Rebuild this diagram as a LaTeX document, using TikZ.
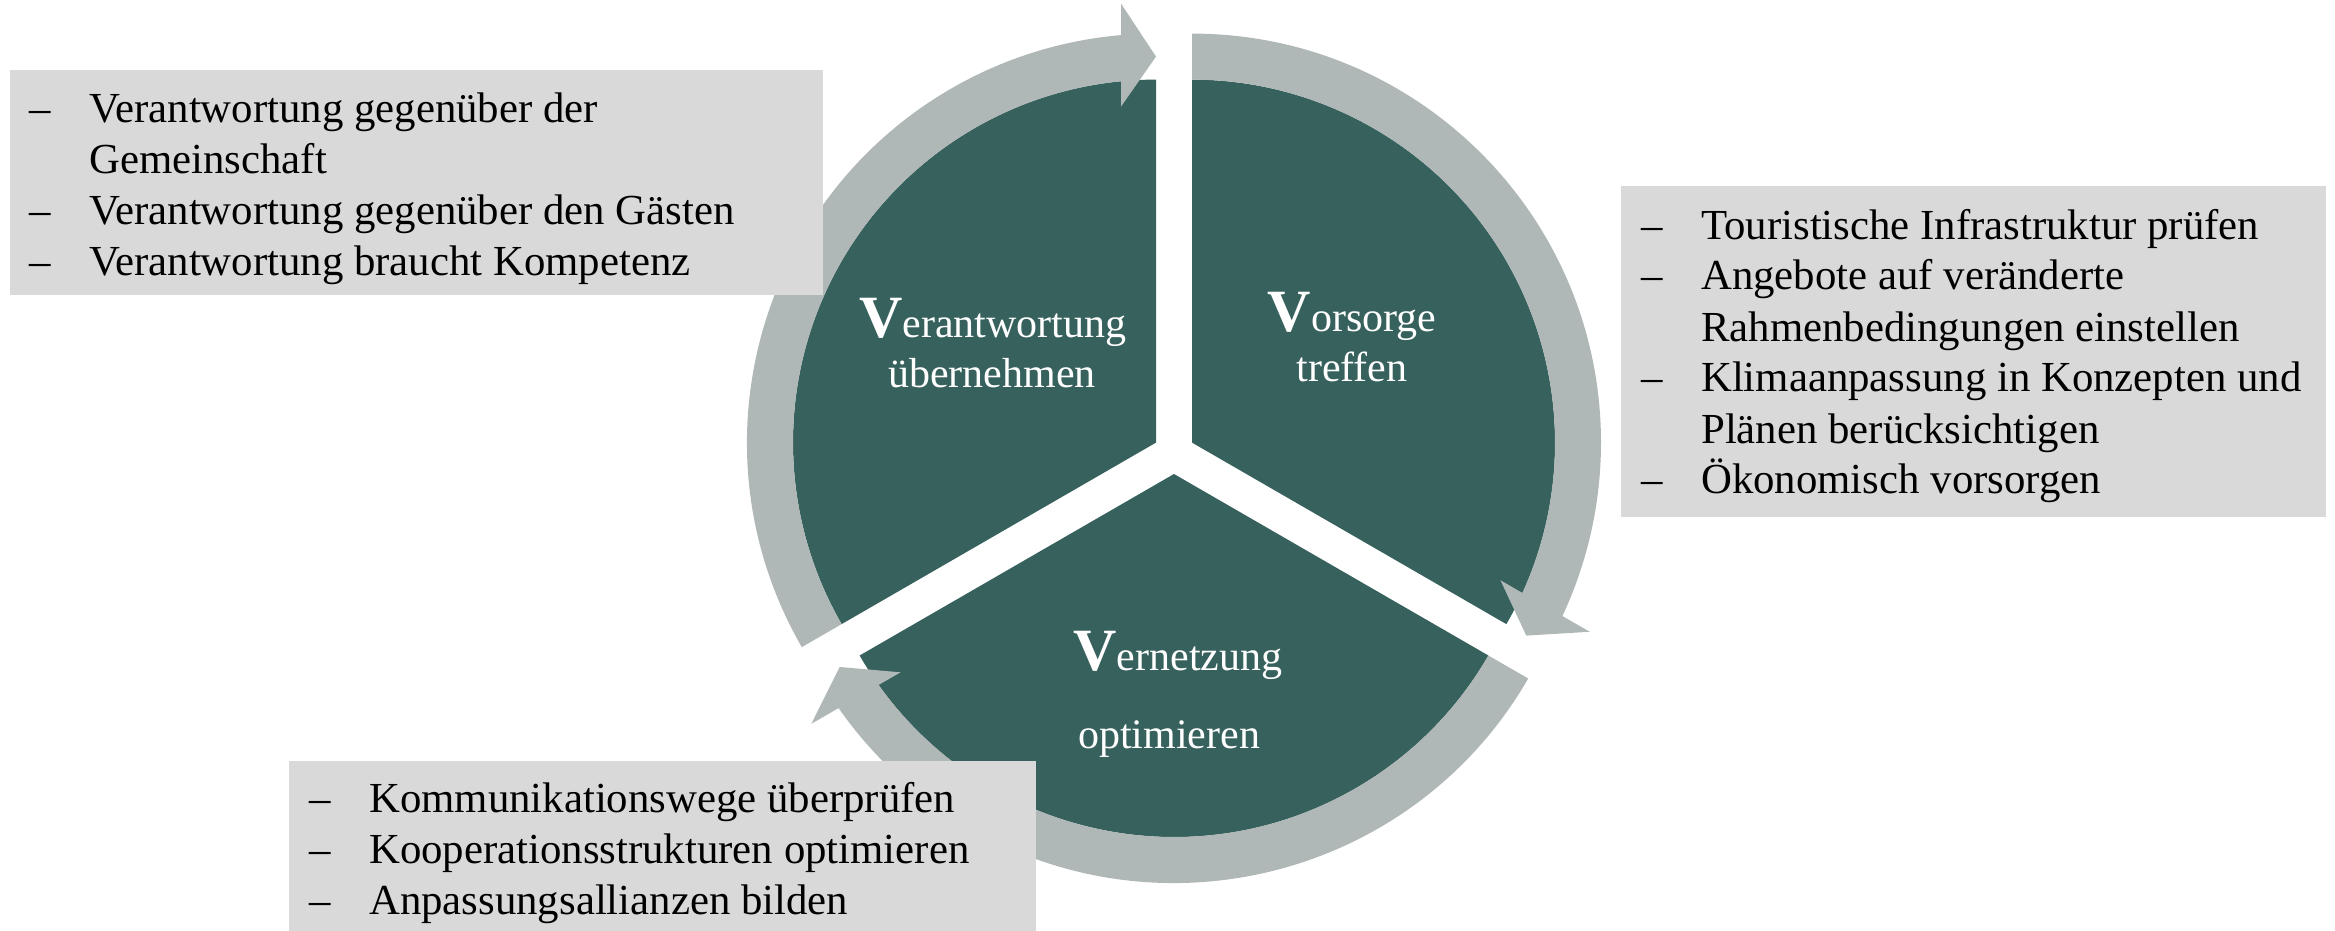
\documentclass[tikz,border=0pt]{standalone}
\usepackage{fontspec}
\setmainfont{Liberation Serif}
\usetikzlibrary{calc}
\definecolor{segdark}{HTML}{37615D}
\definecolor{ringgray}{HTML}{AFB8B6}
\definecolor{boxgray}{HTML}{D9D9D9}
\newcommand\boxfont{\fontsize{42.8}{51}\selectfont}
\newcommand\dashcol{\makebox[60pt][l]{\textendash}}
\newcommand\bigV{{\fontsize{60}{60}\selectfont\bfseries V}}
\newcommand\ringarrow[3]{%
  \fill[ringarc] ($(#1)+(#2:409)$) arc[start angle=#2, end angle={#3+4.91}, radius=409]
    -- ($(#1)+({#3+4.56}:440.4)$) -- ($(#1)+(#3:386)$) -- ($(#1)+({#3+5.95}:337.8)$)
    -- ($(#1)+({#3+5.53}:363)$) arc[start angle={#3+5.53}, end angle=#2, radius=363] -- cycle;}
\tikzset{
  seg/.style={fill=segdark},
  ringarc/.style={fill=ringgray},
  infobox/.style={fill=boxgray, draw=none, inner sep=0, anchor=north west},
  infotext/.style={anchor=base west, inner sep=0, font=\boxfont, text=black},
  seglabel/.style={anchor=base, inner sep=0, text=white, font=\fontsize{42}{50}\selectfont}
}
\begin{document}
\begin{tikzpicture}[x=1pt,y=1pt]
\useasboundingbox (0,0) rectangle (2335,-931);
\coordinate (cA) at (1156,-442.6);
\coordinate (cB) at (1192,-442.6);
\coordinate (cC) at (1174,-474);
% segments
\fill[seg] (cA) -- ($(cA)+(90:363)$) arc[start angle=90,end angle=210,radius=363] -- cycle;
\fill[seg] (cB) -- ($(cB)+(-30:363)$) arc[start angle=-30,end angle=90,radius=363] -- cycle;
\fill[seg] (cC) -- ($(cC)+(210:363)$) arc[start angle=210,end angle=330,radius=363] -- cycle;
% ring arrows
\ringarrow{cA}{210}{90}
\ringarrow{cB}{90}{-30}
\ringarrow{cC}{330}{210}
% segment labels
\node[seglabel] (vA1) at (993,-337) {\bigV erantwortung};
\node[seglabel] (vA2) at (992,-387) {übernehmen};
\node[seglabel] (vB1) at (1352,-331) {\bigV orsorge};
\node[seglabel] (vB2) at (1352,-381) {treffen};
\node[seglabel] (vC1) at (1178,-670) {\bigV ernetzung};
\node[seglabel] (vC2) at (1169,-748) {optimieren};
% boxes
\node[infobox, minimum width=813, minimum height=225] (box1) at (10,-70) {};
\node[infobox, minimum width=705, minimum height=331] (box2) at (1621,-186) {};
\node[infobox, minimum width=747, minimum height=171] (box3) at (289,-761) {};
\node[infotext] (txt1) at (29,-123) {\begin{tabular}[t]{@{}l@{}l@{}}
\dashcol & Verantwortung gegenüber der\\
 & Gemeinschaft\\
\dashcol & Verantwortung gegenüber den Gästen\\
\dashcol & Verantwortung braucht Kompetenz
\end{tabular}};
\node[infotext] (txt2) at (1641,-239) {\begin{tabular}[t]{@{}l@{}l@{}}
\dashcol & Touristische Infrastruktur prüfen\\
\dashcol & Angebote auf veränderte\\
 & Rahmenbedingungen einstellen\\
\dashcol & Klimaanpassung in Konzepten und\\
 & Plänen berücksichtigen\\
\dashcol & Ökonomisch vorsorgen
\end{tabular}};
\node[infotext] (txt3) at (309,-812) {\begin{tabular}[t]{@{}l@{}l@{}}
\dashcol & Kommunikationswege überprüfen\\
\dashcol & Kooperationsstrukturen optimieren\\
\dashcol & Anpassungsallianzen bilden
\end{tabular}};
\end{tikzpicture}
\end{document}
